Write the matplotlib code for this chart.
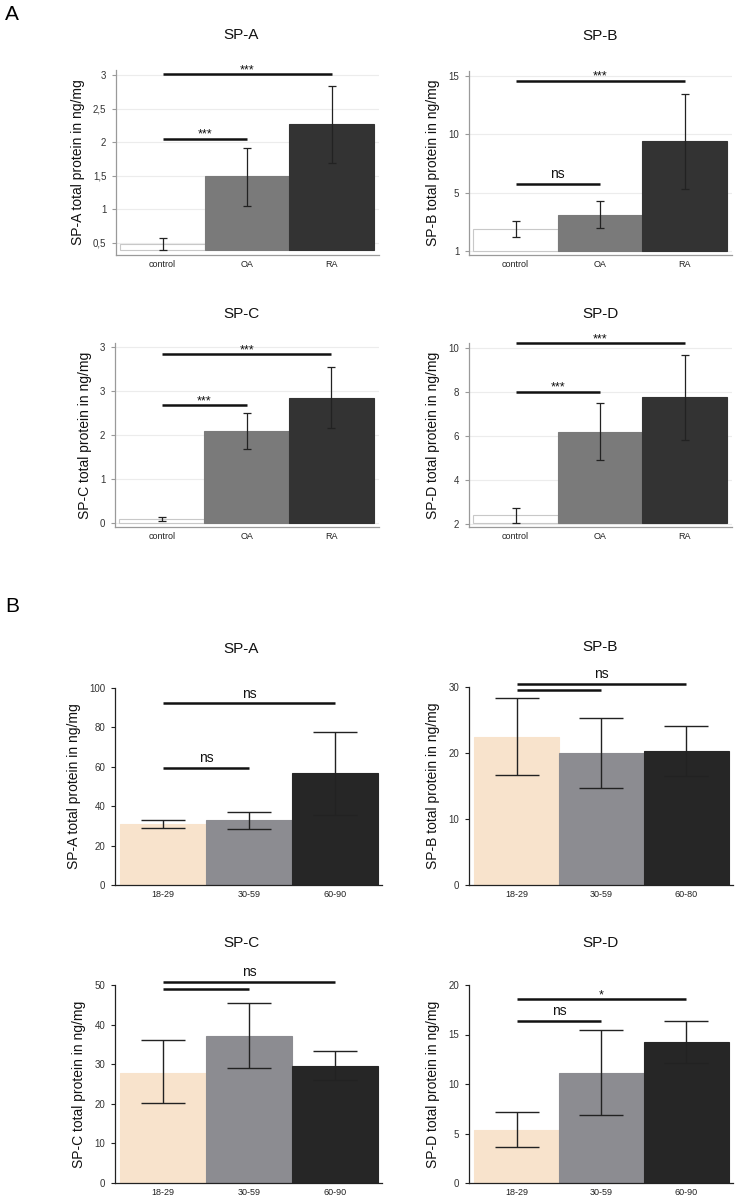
import matplotlib
matplotlib.use('Agg')
import numpy as np
import matplotlib.pyplot as plt

plt.rcParams['font.family'] = ['Liberation Sans', 'DejaVu Sans']

# Panel A: patient groups
groups_a = ['control', 'OA', 'RA']
colors_a = ['#ffffff', '#7a7a7a', '#333333']

spa_a_mean = [0.48, 1.49, 2.27]
spa_a_lo = [0.39, 1.05, 1.69]
spa_a_hi = [0.57, 1.92, 2.84]

spb_a_mean = [1.89, 3.09, 9.43]
spb_a_lo = [1.20, 1.97, 5.30]
spb_a_hi = [2.57, 4.29, 13.5]

spc_a_mean = [0.10, 2.09, 2.85]
spc_a_lo = [0.05, 1.69, 2.16]
spc_a_hi = [0.14, 2.51, 3.55]

spd_a_mean = [2.41, 6.20, 7.75]
spd_a_lo = [2.07, 4.91, 5.82]
spd_a_hi = [2.75, 7.48, 9.68]

# Panel B: age groups
groups_b = ['18-29', '30-59', '60-90']
groups_b_spb = ['18-29', '30-59', '60-80']
colors_b = ['#f8e3cc', '#8c8c91', '#262626']

spa_b_mean = [30.8, 32.8, 56.9]
spa_b_lo = [28.7, 28.2, 35.5]
spa_b_hi = [33.1, 37.2, 77.8]

spb_b_mean = [22.4, 20.0, 20.3]
spb_b_lo = [16.6, 14.7, 16.5]
spb_b_hi = [28.4, 25.3, 24.1]

spc_b_mean = [27.9, 37.2, 29.5]
spc_b_lo = [20.1, 29.0, 25.9]
spc_b_hi = [36.1, 45.5, 33.3]

spd_b_mean = [5.4, 11.15, 14.25]
spd_b_lo = [3.68, 6.84, 12.16]
spd_b_hi = [7.17, 15.5, 16.4]

# significance brackets: (height, index of right group, label)
sig_spa_a = [(3.01, 2, '***'), (2.05, 1, '***')]
sig_spb_a = [(14.6, 2, '***'), (5.75, 1, 'ns')]
sig_spc_a = [(3.83, 2, '***'), (2.68, 1, '***')]
sig_spd_a = [(10.2, 2, '***'), (8.0, 1, '***')]
sig_spa_b = [(92.2, 2, 'ns'), (59.4, 1, 'ns')]
sig_spb_b = [(30.5, 2, 'ns'), (29.5, 1, '')]
sig_spc_b = [(50.8, 2, 'ns'), (49.1, 1, '')]
sig_spd_b = [(18.6, 2, '*'), (16.4, 1, 'ns')]

W, H = 736, 1198
fig = plt.figure(figsize=(W / 100, H / 100), dpi=100)


def add_axes(px_left, px_right, px_top, px_bottom):
    return fig.add_axes([px_left / W, 1 - px_bottom / H,
                         (px_right - px_left) / W, (px_bottom - px_top) / H])


def draw_panel(ax, title, title_xy, groups, colors, mean, lo, hi, base,
               ticks, ticklabels, ylim, xlim, sigs, style):
    x = np.arange(len(groups))
    heights = np.array(mean) - base
    yerr = [np.array(mean) - np.array(lo), np.array(hi) - np.array(mean)]
    if style == 'A':
        edge = ['#c8c8c8', '#7a7a7a', '#333333']
        spine_c = '#9a9a9a'
        cap = 3
        elw = 0.9
    else:
        edge = colors
        spine_c = '#222222'
        cap = 16
        elw = 1.0
    ax.bar(x, heights, width=1.0, bottom=base, color=colors, edgecolor=edge,
           linewidth=0.8, zorder=2)
    ax.errorbar(x, mean, yerr=yerr, fmt='none', ecolor='#222222',
                elinewidth=elw, capsize=cap, capthick=elw, zorder=3)
    ax.set_xlim(*xlim)
    ax.set_ylim(*ylim)
    ax.set_yticks(ticks)
    ax.set_yticklabels(ticklabels)
    ax.set_xticks(x)
    ax.set_xticklabels(groups)
    for s in ['top', 'right']:
        ax.spines[s].set_visible(False)
    for s in ['left', 'bottom']:
        ax.spines[s].set_color(spine_c)
        ax.spines[s].set_linewidth(0.9)
    ax.tick_params(axis='x', length=0, labelsize=6.5, pad=3.5, colors='#222222')
    ax.tick_params(axis='y', length=3, width=0.8, color=spine_c,
                   labelsize=7, pad=4, labelcolor='#333333')
    if style == 'A':
        ax.yaxis.grid(True, color='#ececec', linewidth=0.8, zorder=0)
        ax.set_axisbelow(True)
    ax.set_ylabel(title + ' total protein in ng/mg', fontsize=10,
                  labelpad=6, color='#111111')
    for y, j, lab in sigs:
        ax.plot([0, j], [y, y], color='#111111', lw=1.8, clip_on=False,
                solid_capstyle='butt', zorder=4)
        if lab:
            fs = 9 if '*' in lab else 10
            off = -1.5 if '*' in lab else 2.0
            ax.annotate(lab, (j / 2, y), xytext=(0, off),
                        textcoords='offset points', ha='center', va='bottom',
                        fontsize=fs, color='#111111', annotation_clip=False)
    fig.text(title_xy[0] / W, 1 - title_xy[1] / H, title, ha='center',
             va='center', fontsize=11, color='#111111')


xlim_a = (-0.55, 2.56)
xlim_b = (-0.56, 2.55)

ax = add_axes(116, 379, 70, 255)
draw_panel(ax, 'SP-A', (241, 35), groups_a, colors_a, spa_a_mean, spa_a_lo,
           spa_a_hi, 0.39, [0.5, 1, 1.5, 2, 2.5, 3],
           ['0,5', '1', '1,5', '2', '2,5', '3'], (0.321, 3.074), xlim_a,
           sig_spa_a, 'A')

ax = add_axes(469, 732, 71, 255)
draw_panel(ax, 'SP-B', (600, 36), groups_a, colors_a, spb_a_mean, spb_a_lo,
           spb_a_hi, 0.0, [0, 5, 10, 15], ['1', '5', '10', '15'],
           (-0.34, 15.44), xlim_a, sig_spb_a, 'A')

ax = add_axes(115, 379, 343, 527)
draw_panel(ax, 'SP-C', (241, 314), groups_a, colors_a, spc_a_mean, spc_a_lo,
           spc_a_hi, 0.0, [0, 1, 2, 3, 4], ['0', '1', '2', '3', '3'],
           (-0.09, 4.09), xlim_a, sig_spc_a, 'A')

ax = add_axes(469, 732, 343, 527)
draw_panel(ax, 'SP-D', (600, 314), groups_a, colors_a, spd_a_mean, spd_a_lo,
           spd_a_hi, 2.07, [2, 4, 6, 8, 10], ['2', '4', '6', '8', '10'],
           (1.88, 10.21), xlim_a, sig_spd_a, 'A')

ax = add_axes(115, 382, 688, 885)
draw_panel(ax, 'SP-A', (241, 649), groups_b, colors_b, spa_b_mean, spa_b_lo,
           spa_b_hi, 0.0, [0, 20, 40, 60, 80, 100],
           ['0', '20', '40', '60', '80', '100'], (0, 100), xlim_b,
           sig_spa_b, 'B')

ax = add_axes(469, 733, 687, 885)
draw_panel(ax, 'SP-B', (600, 647), groups_b_spb, colors_b, spb_b_mean,
           spb_b_lo, spb_b_hi, 0.0, [0, 10, 20, 30], ['0', '10', '20', '30'],
           (0, 30), xlim_b, sig_spb_b, 'B')

ax = add_axes(115, 382, 985, 1183)
draw_panel(ax, 'SP-C', (241, 943), groups_b, colors_b, spc_b_mean, spc_b_lo,
           spc_b_hi, 0.0, [0, 10, 20, 30, 40, 50],
           ['0', '10', '20', '30', '40', '50'], (0, 50), xlim_b,
           sig_spc_b, 'B')

ax = add_axes(469, 733, 985, 1183)
draw_panel(ax, 'SP-D', (600, 943), groups_b, colors_b, spd_b_mean, spd_b_lo,
           spd_b_hi, 0.0, [0, 5, 10, 15, 20], ['0', '5', '10', '15', '20'],
           (0, 20), xlim_b, sig_spd_b, 'B')

fig.text(12 / W, 1 - 15 / H, 'A', ha='center', va='center', fontsize=15)
fig.text(12 / W, 1 - 607 / H, 'B', ha='center', va='center', fontsize=15)

fig.savefig('out.png', dpi=100)
plt.close(fig)
